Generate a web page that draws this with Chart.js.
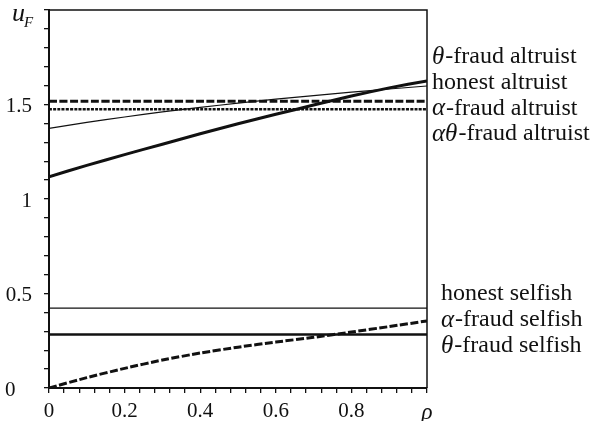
<html>
	<head>
		<script src="https://cdn.jsdelivr.net/npm/chart.js@4/dist/chart.umd.min.js"></script>
		<style>
			body { margin:0; background:#fff; }
			#holder { width:600px; height:421px; }
		</style>
	</head>
	<body>
		<div id="holder"><canvas id="uChart" width="600" height="421"></canvas></div>
	</body>
	<script>
		// values
		let rho = [0, 0.1, 0.2, 0.3, 0.4, 0.5, 0.6, 0.7, 0.8, 0.9, 1];
		let thetaAltruist = [1.118, 1.178, 1.235, 1.290, 1.345, 1.398, 1.448, 1.497, 1.545, 1.588, 1.625];
		let honestAltruist = [1.374, 1.405, 1.434, 1.461, 1.485, 1.507, 1.528, 1.547, 1.565, 1.582, 1.598];
		let alphaAltruist = [1.517, 1.517, 1.517, 1.517, 1.517, 1.517, 1.517, 1.517, 1.517, 1.517, 1.517];
		let alphaThetaAltruist = [1.475, 1.475, 1.475, 1.475, 1.475, 1.475, 1.475, 1.475, 1.475, 1.475, 1.475];
		let honestSelfish = [0.423, 0.423, 0.423, 0.423, 0.423, 0.423, 0.423, 0.423, 0.423, 0.423, 0.423];
		let alphaSelfish = [0, 0.055, 0.104, 0.148, 0.185, 0.216, 0.243, 0.268, 0.296, 0.325, 0.355];
		let thetaSelfish = [0.283, 0.283, 0.283, 0.283, 0.283, 0.283, 0.283, 0.283, 0.283, 0.283, 0.283];

		let xLabels = ['0', '0.2', '0.4', '0.6', '0.8'];
		let yLabels = ['0.5', '1', '1.5'];
		// [greek part, rest] for the labels on the right
		let altruistNames = [['θ', '-fraud altruist'], ['', 'honest altruist'], ['α', '-fraud altruist'], ['αθ', '-fraud altruist']];
		let selfishNames = [['', 'honest selfish'], ['α', '-fraud selfish'], ['θ', '-fraud selfish']];

		let SERIF = '"Liberation Serif", "DejaVu Serif", serif';
		let INK = '#111';

		function pts(vals){
			return rho.map((x, i) => ({x: x, y: vals[i]}));
		}

		function line(vals, width, dash){
			return {
				data: pts(vals),
				borderColor: INK,
				borderWidth: width,
				borderDash: dash || [],
				pointRadius: 0,
				tension: 0.2,
				fill: false
			};
		}

		function drawName(ctx, x, y, parts){
			ctx.textBaseline = 'middle';
			ctx.textAlign = 'left';
			ctx.fillStyle = INK;
			if (parts[0]) {
				ctx.font = 'italic 25px ' + SERIF;
				ctx.fillText(parts[0], x, y);
				x += ctx.measureText(parts[0]).width + 1;
			}
			ctx.font = '24px ' + SERIF;
			ctx.fillText(parts[1], x, y);
		}

		// frame, the odd "0" label, u_F and the names on the right
		let extras = {
			id: 'extras',
			afterDraw(chart){
				let ctx = chart.ctx, a = chart.chartArea;
				let ys = chart.scales.y;
				ctx.save();
				ctx.strokeStyle = INK;
				ctx.lineWidth = 1.5;
				ctx.beginPath();
				ctx.moveTo(a.left, a.top); ctx.lineTo(a.right, a.top); ctx.lineTo(a.right, a.bottom);
				ctx.stroke();

				ctx.fillStyle = INK;
				ctx.textBaseline = 'middle';
				ctx.textAlign = 'left';
				ctx.font = '21px ' + SERIF;
				ctx.fillText('0', 5, ys.getPixelForValue(0) + 2);

				ctx.font = 'italic 26px ' + SERIF;
				ctx.fillText('u', 12, 14);
				ctx.font = 'italic 15px ' + SERIF;
				ctx.fillText('F', 24, 23);

				altruistNames.forEach((n, i) => drawName(ctx, 432, 57 + i * 25.7, n));
				selfishNames.forEach((n, i) => drawName(ctx, 441, 294 + i * 26, n));
				ctx.restore();
			}
		};

		let ctx = document.getElementById('uChart').getContext('2d');
		let uChart = new Chart(ctx, {
			type: 'line',
			data: {
				datasets: [
					line(thetaAltruist, 3),
					line(honestAltruist, 1.2),
					line(alphaAltruist, 3, [8, 2.5]),
					line(alphaThetaAltruist, 2.5, [3, 1.2]),
					line(honestSelfish, 1.2),
					line(alphaSelfish, 3, [8, 2.5]),
					line(thetaSelfish, 2.5)
				]
			},
			options: {
				responsive: false,
				animation: false,
				layout: { padding: { top: 10, right: 173, left: 0, bottom: 0 } },
				plugins: { legend: { display: false }, tooltip: { enabled: false } },
				scales: {
					x: {
						type: 'linear', min: 0, max: 1,
						grid: { drawOnChartArea: false, tickLength: 5, color: INK, lineWidth: 1.3 },
						border: { color: INK, width: 2 },
						ticks: {
							stepSize: 0.04, autoSkip: false, maxRotation: 0, padding: 6, color: INK,
							font: c => (c.tick && Math.round(c.tick.value * 100) === 100)
								? { family: SERIF, size: 23, style: 'italic' }
								: { family: SERIF, size: 21 },
							callback: v => {
								let k = Math.round(v * 100);
								if (k === 100) return 'ρ';
								if (k % 20 === 0) return xLabels[k / 20];
								return '';
							}
						},
						afterFit: s => { s.height = 33; s.paddingLeft = 0; s.paddingRight = 0; }
					},
					y: {
						min: 0, max: 2,
						grid: { drawOnChartArea: false, tickLength: 5, color: INK, lineWidth: 1.3 },
						border: { color: INK, width: 2 },
						ticks: {
							stepSize: 0.1, autoSkip: false, padding: 12, color: INK,
							font: { family: SERIF, size: 21 },
							labelOffset: 2,
							callback: v => {
								let k = Math.round(v * 10);
								if (k > 0 && k % 5 === 0 && k / 5 <= yLabels.length) return yLabels[k / 5 - 1];
								return '';
							}
						},
						afterFit: s => { s.width = 49; s.paddingTop = 0; s.paddingBottom = 0; }
					}
				}
			},
			plugins: [extras]
		});
	</script>
</html>
